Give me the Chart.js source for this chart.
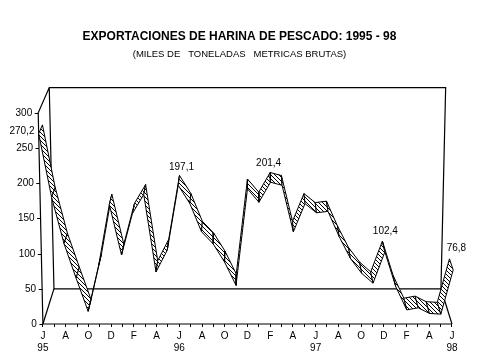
<!DOCTYPE html>
<html>
<head>
<meta charset="utf-8">
<script src="https://cdn.jsdelivr.net/npm/chart.js@4"></script>
<style>
  html, body { margin: 0; padding: 0; background: #fff; }
  canvas { display: block; }
</style>
</head>
<body>
<canvas id="chart" width="479" height="359"></canvas>
<script>
const monthLabels = ['J','','A','','O','','D','','F','','A','','J','','A','','O','','D','','F','','A','','J','','A','','O','','D','','F','','A','','J'];
const yearLabels = ['95','','','','','','','','','','','','96','','','','','','','','','','','','97','','','','','','','','','','','','98'];
const exportValues = [270.2,180,114,65,18,84,170,98,157,184,74,105,197.1,171,131,114,88,55,192,173,201.4,197,131,171,158,160,124,93,72,58,102.4,53,20,23,15,14,76.8];
const labelIndexes = [0,12,20,30,36];
const labelTexts = ['270,2','197,1','201,4','102,4','76,8'];
const yMax = 300;

// fake 3d box of the original: walls lean out going up and close in going back
const centerMonth = 18;
const ribbonDepth = 0.34;
const labelOffsets = [[-20.5,6],[2,-8],[-1.5,-9],[3,-10],[7,-11]];

function project(month, value, depth) {
  return {
    x: centerMonth + (month - centerMonth) * (1 + 0.023 * value / yMax - 0.054 * depth),
    y: value * (1 - 0.047 * depth) + 50 * depth
  };
}

function hatchPattern() {
  const size = 4;
  const c = document.createElement('canvas');
  c.width = size;
  c.height = size;
  const g = c.getContext('2d');
  g.fillStyle = '#fff';
  g.fillRect(0, 0, size, size);
  g.fillStyle = '#000';
  for (let i = 0; i < size; i++) g.fillRect(i, i, 1, 1);
  return g.createPattern(c, 'repeat');
}

function wall(points) {
  return {
    data: points.map(p => project(p[0], p[1], p[2])),
    borderColor: '#000',
    borderWidth: 1.2,
    pointRadius: 0,
    fill: false,
    tension: 0,
    clip: false,
    order: 100
  };
}

const last = exportValues.length - 1;
const datasets = [
  wall([[0,0,0],[last,0,0]]),
  wall([[0,0,0],[0,yMax,0],[0,yMax,1],[last,yMax,1],[last,0,1],[0,0,1],[0,yMax,1]]),
  wall([[0,0,0],[0,0,1]]),
  wall([[last,0,0],[last,0,1]])
];

const hatch = hatchPattern();
for (let i = 0; i < last; i++) {
  const a = exportValues[i];
  const b = exportValues[i + 1];
  datasets.push({
    data: [
      project(i, a, 0),
      project(i + 1, b, 0),
      project(i + 1, b, ribbonDepth),
      project(i, a, ribbonDepth),
      project(i, a, 0)
    ],
    borderColor: '#000',
    borderWidth: 1,
    backgroundColor: hatch,
    pointRadius: 0,
    fill: 'shape',
    tension: 0,
    clip: false,
    order: last - i
  });
}

const boxLabels = {
  id: 'boxLabels',
  afterDraw(chart) {
    const ctx = chart.ctx;
    const xs = chart.scales.x;
    const ys = chart.scales.y;
    ctx.save();
    ctx.font = '10px "Liberation Sans"';
    ctx.fillStyle = '#000';
    ctx.strokeStyle = '#000';
    ctx.lineWidth = 1;
    ctx.textBaseline = 'middle';

    // y ticks follow the leaning left wall
    ctx.textAlign = 'right';
    ys.ticks.forEach(t => {
      const p = project(0, t.value, 0);
      const px = xs.getPixelForValue(p.x);
      const py = Math.round(ys.getPixelForValue(p.y)) + 0.5;
      ctx.beginPath();
      ctx.moveTo(px - 3.5, py);
      ctx.lineTo(px, py);
      ctx.stroke();
      ctx.fillText(String(t.value), px - 6, py);
    });

    // value labels above the ribbon
    ctx.textAlign = 'center';
    labelIndexes.forEach((idx, n) => {
      const p = project(idx, exportValues[idx], ribbonDepth);
      ctx.fillText(labelTexts[n], xs.getPixelForValue(p.x) + labelOffsets[n][0], ys.getPixelForValue(p.y) + labelOffsets[n][1]);
    });
    ctx.restore();
  }
};

new Chart(document.getElementById('chart').getContext('2d'), {
  type: 'line',
  data: { datasets: datasets },
  plugins: [boxLabels],
  options: {
    responsive: false,
    animation: false,
    events: [],
    layout: { padding: { left: 15.64, right: 15.64, top: 0, bottom: 2 } },
    plugins: {
      legend: { display: false },
      tooltip: { enabled: false },
      title: {
        display: true,
        text: 'EXPORTACIONES DE HARINA DE PESCADO: 1995 - 98',
        color: '#000',
        font: { family: '"Liberation Sans"', size: 12, weight: 'bold' },
        padding: { top: 29, bottom: 5 }
      },
      subtitle: {
        display: true,
        text: '(MILES DE   TONELADAS   METRICAS BRUTAS)',
        color: '#000',
        font: { family: '"Liberation Sans"', size: 9.5 },
        padding: { top: 0, bottom: 53 }
      }
    },
    scales: {
      x: {
        type: 'linear',
        min: -2.4,
        max: last + 1,
        border: { display: false },
        grid: { drawOnChartArea: false, tickLength: 3, color: '#000' },
        afterBuildTicks(scale) {
          scale.ticks = scale.ticks.filter(t => t.value >= 0 && t.value <= last);
        },
        ticks: {
          stepSize: 1,
          autoSkip: false,
          maxRotation: 0,
          padding: 3,
          color: '#000',
          font: { family: '"Liberation Sans"', size: 10, lineHeight: 1.2 },
          callback: value => [monthLabels[value] || '', yearLabels[value] || '']
        }
      },
      y: {
        min: 0,
        max: yMax,
        border: { display: false },
        grid: { display: false },
        afterFit(scale) { scale.width = 0; },
        ticks: { stepSize: 50, display: false }
      }
    }
  }
});
</script>
</body>
</html>
